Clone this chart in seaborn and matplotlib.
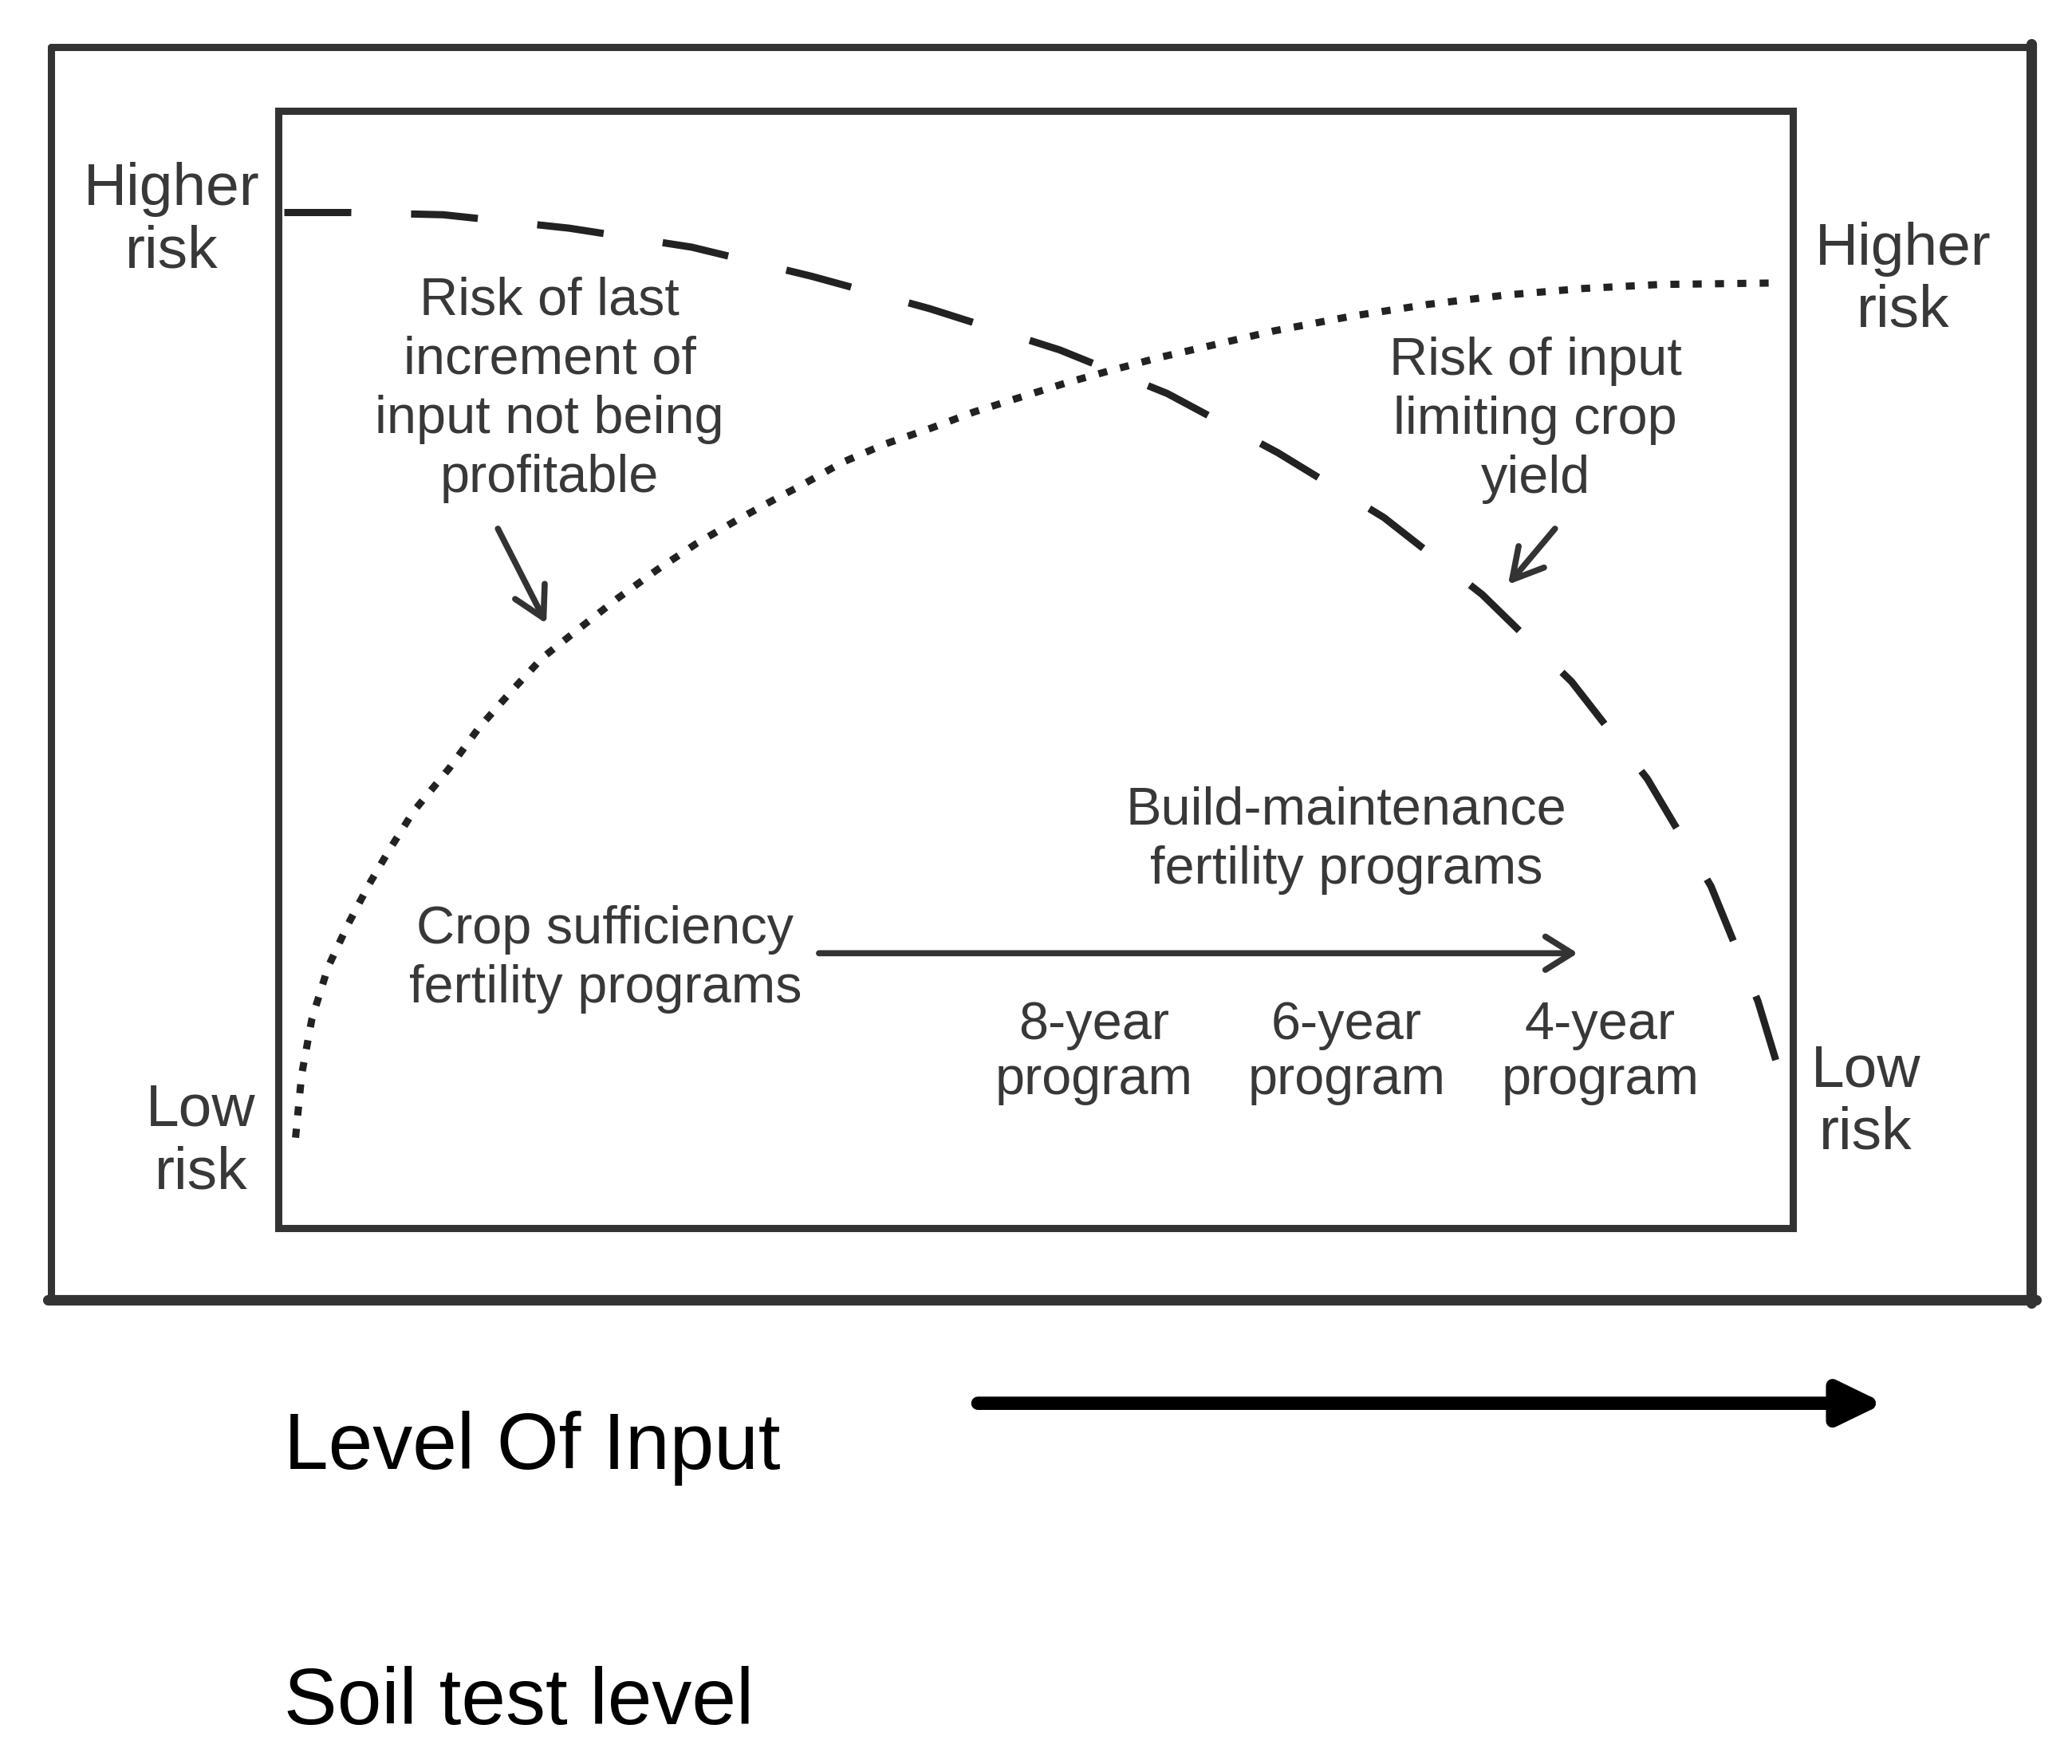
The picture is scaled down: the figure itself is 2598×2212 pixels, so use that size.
import numpy as np
import pandas as pd
import matplotlib
matplotlib.use("Agg")
import matplotlib.pyplot as plt
from matplotlib.lines import Line2D
from matplotlib.patches import FancyArrowPatch
import seaborn as sns

# ---------------- data (level of input 0-100, risk 0-100) ----------------
profit_x = [0.4, 4.8, 10.9, 19.2, 27.3, 35.2, 43.0, 51.6, 58.7, 66.0, 73.0,
            79.5, 85.4, 90.4, 94.6, 97.7, 99.6]
profit_y = [90.9, 90.9, 90.7, 89.5, 87.8, 85.2, 82.3, 78.6, 74.7, 69.4, 63.6,
            56.7, 48.9, 40.2, 30.6, 20.3, 11.8]

limit_x = [1.14, 1.54, 2.22, 3.29, 4.63, 5.98, 7.32, 8.93, 11.29, 13.22,
           15.32, 17.43, 19.97, 22.43, 24.98, 27.61, 30.33, 33.05, 34.42,
           37.24, 40.07, 43.12, 45.94, 48.99, 52.05, 54.87, 58.16, 61.22,
           65.72, 70.82, 75.92, 81.03, 86.14, 91.24, 98.64]
limit_y = [8.09, 13.71, 18.73, 23.38, 27.25, 30.73, 33.83, 37.30, 41.16, 44.73,
           47.95, 51.04, 53.77, 56.39, 58.89, 61.27, 63.41, 65.43, 66.39,
           68.53, 70.18, 71.61, 73.05, 74.36, 75.66, 76.73, 77.92, 78.88,
           80.30, 81.61, 82.68, 83.51, 84.10, 84.46, 84.59]

side_labels = ["Higher\nrisk", "Low\nrisk", "Higher\nrisk", "Low\nrisk"]
program_labels = ["8-year\nprogram", "6-year\nprogram", "4-year\nprogram"]
curve_labels = ["Risk of last\nincrement of\ninput not being\nprofitable",
                "Risk of input\nlimiting crop\nyield"]
program_titles = ["Crop sufficiency\nfertility programs",
                  "Build-maintenance\nfertility programs"]
axis_labels = ["Level Of Input", "Soil test level"]

# ---------------- style ----------------
sns.set_theme(style="white")
plt.rcParams['font.family'] = ['Liberation Sans', 'DejaVu Sans']

W, H = 1568.0, 1335.0          # reference layout units
def fx(px):
    return px / W
def fy(py):
    return 1 - py / H

GRAY = "#333333"
TXT = "#383838"

fig = plt.figure(figsize=(25.98, 22.12), dpi=100)
fig.patch.set_facecolor("white")

ax = fig.add_axes([fx(210.6), fy(929.4), fx(1356.7) - fx(210.6), fy(83.9) - fy(929.4)])
ax.set_xlim(0, 100)
ax.set_ylim(0, 100)
ax.set_xticks([])
ax.set_yticks([])
for s in ax.spines.values():
    s.set_visible(True)
    s.set_color(GRAY)
    s.set_linewidth(6.5)

df_profit = pd.DataFrame({"x": profit_x, "y": profit_y})
df_limit = pd.DataFrame({"x": limit_x, "y": limit_y})

sns.lineplot(data=df_profit, x="x", y="y", ax=ax, color="#222222",
             linewidth=6.5, estimator=None, sort=False,
             linestyle=(0, (9.3, 8.3)))
sns.lineplot(data=df_limit, x="x", y="y", ax=ax, color="#222222",
             linewidth=6.5, estimator=None, sort=False,
             linestyle=(0, (1.25, 1.85)))
ax.set_xlabel("")
ax.set_ylabel("")

# outer frame (slightly heavier on right/bottom)
fig.add_artist(Line2D([fx(38.5), fx(1537)], [fy(35.4), fy(35.4)], color=GRAY, lw=6.5))
fig.add_artist(Line2D([fx(38.5), fx(38.5)], [fy(35.4), fy(984)], color=GRAY, lw=6.5))
fig.add_artist(Line2D([fx(36.5), fx(1541)], [fy(984), fy(984)], color=GRAY, lw=9.5))
fig.add_artist(Line2D([fx(1537), fx(1537)], [fy(33), fy(986)], color=GRAY, lw=9.5))

# side labels
side_pos = [(130, 167), (152, 864), (1440, 212), (1412, 834)]
for lab, (px, py) in zip(side_labels, side_pos):
    fig.text(fx(px), fy(py), lab, ha="center", va="center", fontsize=54,
             color=TXT, linespacing=1.17)

# curve labels
curve_pos = [(416, 295), (1162, 318)]
for lab, (px, py) in zip(curve_labels, curve_pos):
    fig.text(fx(px), fy(py), lab, ha="center", va="center", fontsize=48,
             color=TXT, linespacing=1.25)

# program titles
title_pos = [(458, 726), (1019, 636)]
for lab, (px, py) in zip(program_titles, title_pos):
    fig.text(fx(px), fy(py), lab, ha="center", va="center", fontsize=48,
             color=TXT, linespacing=1.25)

prog_pos = [(828, 797), (1019, 797), (1211, 797)]
for lab, (px, py) in zip(program_labels, prog_pos):
    fig.text(fx(px), fy(py), lab, ha="center", va="center", fontsize=48,
             color=TXT, linespacing=1.16)

# annotation arrows (data coords)
head = "->,head_length=0.45,head_width=0.25"
ax.annotate("", xy=(17.7, 54.1), xytext=(14.5, 62.6),
            arrowprops=dict(arrowstyle=head, color=GRAY, lw=5.5, mutation_scale=60,
                            shrinkA=0, shrinkB=0))
ax.annotate("", xy=(81.2, 57.6), xytext=(84.3, 62.6),
            arrowprops=dict(arrowstyle=head, color=GRAY, lw=5.5, mutation_scale=60,
                            shrinkA=0, shrinkB=0))
ax.annotate("", xy=(85.8, 24.6), xytext=(35.7, 24.6),
            arrowprops=dict(arrowstyle="->,head_length=0.4,head_width=0.25",
                            color=GRAY, lw=5.5, mutation_scale=60,
                            shrinkA=0, shrinkB=0))

# bottom big arrow and axis texts
fig.add_artist(FancyArrowPatch(
    (fx(740), fy(1062)), (fx(1426), fy(1062)), transform=fig.transFigure,
    arrowstyle="-|>,head_length=0.66,head_width=0.32", mutation_scale=50,
    color="black", lw=12, shrinkA=0, shrinkB=0))

fig.text(fx(215), fy(1096), axis_labels[0], ha="left", va="center",
         fontsize=72, color="black")
fig.text(fx(215), fy(1289), axis_labels[1], ha="left", va="center",
         fontsize=72, color="black")

fig.savefig("out.png", dpi=100, facecolor="white")
